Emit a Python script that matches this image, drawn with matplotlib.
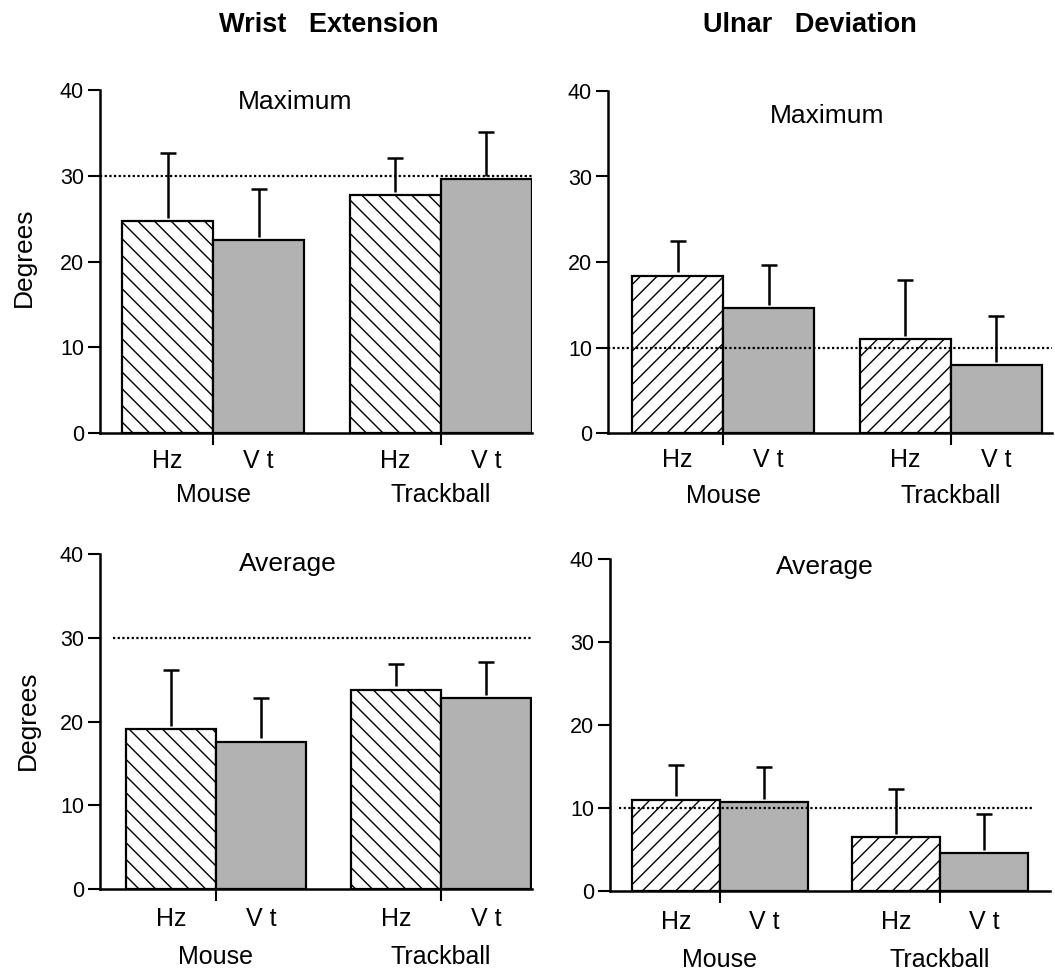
import matplotlib
matplotlib.use("Agg")
import matplotlib.pyplot as plt

plt.rcParams['font.family'] = ['Liberation Sans', 'DejaVu Sans']
plt.rcParams['hatch.linewidth'] = 1.0

W, H = 1055, 972

# ---- data ----
devices = ["Mouse", "Trackball"]
orientations = ["Hz", "V t"]

we_max_mean = [24.7, 22.5, 27.7, 29.6]
we_max_err = [32.6, 28.5, 32.1, 35.1]
ud_max_mean = [18.4, 14.6, 11.0, 7.9]
ud_max_err = [22.5, 19.6, 17.9, 13.7]
we_avg_mean = [19.1, 17.6, 23.8, 22.8]
we_avg_err = [26.1, 22.8, 26.9, 27.1]
ud_avg_mean = [11.0, 10.7, 6.5, 4.6]
ud_avg_err = [15.2, 14.9, 12.3, 9.3]

we_limit = 30
ud_limit = 10

column_titles = ["Wrist   Extension", "Ulnar   Deviation"]
row_titles = ["Maximum", "Average"]
yticks = [0, 10, 20, 30, 40]

GREY = '#b2b2b2'

fig = plt.figure(figsize=(W / 100, H / 100), dpi=100)

# pixel geometry per panel: axis_left, hz1_left, unit, axis_right, y0, y40
geom = {
    (0, 0): dict(L=100, hz=122, u=91.0, R=532, y0=433, y40=90),
    (0, 1): dict(L=608, hz=632, u=91.0, R=1052, y0=433, y40=91),
    (1, 0): dict(L=100, hz=126, u=90.0, R=532, y0=889, y40=554),
    (1, 1): dict(L=610, hz=632, u=88.0, R=1050, y0=891, y40=559),
}

panels = {
    (0, 0): (we_max_mean, we_max_err, we_limit, '\\\\'),
    (0, 1): (ud_max_mean, ud_max_err, ud_limit, '//'),
    (1, 0): (we_avg_mean, we_avg_err, we_limit, '\\\\'),
    (1, 1): (ud_avg_mean, ud_avg_err, ud_limit, '//'),
}
limit_span = {
    (0, 0): (0.0, 1.0),
    (0, 1): (0.0, 1.0),
    (1, 0): (0.03, 1.0),
    (1, 1): (0.02, 0.96),
}
title_y = {(0, 0): 102, (0, 1): 116, (1, 0): 564, (1, 1): 567}
title_x = {(0, 0): 295, (0, 1): 827, (1, 0): 288, (1, 1): 825}
lab1_off = {(0, 0): 28, (0, 1): 27, (1, 0): 30, (1, 1): 31}
lab2_off = {(0, 0): 62, (0, 1): 63, (1, 0): 68, (1, 1): 69}

for (r, c), (means, errs, lim, hatch) in panels.items():
    g = geom[(r, c)]
    left = g['L'] / W
    width = (g['R'] - g['L']) / W
    bottom = 1 - g['y0'] / H
    height = (g['y0'] - g['y40']) / H
    ax = fig.add_axes([left, bottom, width, height])
    x0 = -(g['hz'] - g['L']) / g['u']
    x1 = x0 + (g['R'] - g['L']) / g['u']
    ax.set_xlim(x0, x1)
    ax.set_ylim(0, 40)

    xs = []
    for gi in range(len(devices)):
        for oi in range(len(orientations)):
            xs.append(gi * 2.5 + oi + 0.5)
    hz_x = xs[0::2]
    vt_x = xs[1::2]
    ax.bar(hz_x, means[0::2], width=1.0, color='white', edgecolor='black',
           hatch=hatch, linewidth=1.6, zorder=2)
    ax.bar(vt_x, means[1::2], width=1.0, color=GREY, edgecolor='black',
           linewidth=1.6, zorder=2)
    # upper-only error bars with a cap at the top
    ax.vlines(xs, [m + 0.4 for m in means], errs, colors='black', linewidth=1.8, zorder=3)
    ax.plot(xs, errs, linestyle='none', marker='_', markersize=11,
            markeredgewidth=1.8, color='black', zorder=3)

    ax.axhline(lim, xmin=limit_span[(r, c)][0], xmax=limit_span[(r, c)][1],
               color='black', linestyle=(0, (1, 1.1)), linewidth=1.6, zorder=4)

    for s in ['top', 'right']:
        ax.spines[s].set_visible(False)
    for s in ['left', 'bottom']:
        ax.spines[s].set_linewidth(1.8)
    ax.set_yticks(yticks)
    ax.set_yticklabels([str(t) for t in yticks], fontsize=15.5)
    ax.tick_params(axis='y', direction='out', length=8.5, width=1.5, pad=3)
    dividers = [gi * 2.5 + 1 for gi in range(len(devices))]
    ax.set_xticks(dividers)
    ax.set_xticklabels([])
    ax.tick_params(axis='x', direction='out', length=8.5, width=1.5)

    for i, x in enumerate(xs):
        ax.annotate(orientations[i % 2], xy=(x, 0), xycoords=('data', 'axes fraction'),
                    xytext=(0, -lab1_off[(r, c)]), textcoords='offset pixels',
                    ha='center', va='center', fontsize=18)
    for gi, d in enumerate(devices):
        ax.annotate(d, xy=(gi * 2.5 + 1, 0), xycoords=('data', 'axes fraction'),
                    xytext=(0, -lab2_off[(r, c)]), textcoords='offset pixels',
                    ha='center', va='center', fontsize=18)

    fig.text(title_x[(r, c)] / W, 1 - title_y[(r, c)] / H, row_titles[r],
             ha='center', va='center', fontsize=19)

fig.text(329 / W, 1 - 25 / H, column_titles[0], ha='center', va='center',
         fontsize=19.5, fontweight='bold')
fig.text(810 / W, 1 - 25 / H, column_titles[1], ha='center', va='center',
         fontsize=19.5, fontweight='bold')
fig.text(24 / W, 1 - 257 / H, "Degrees", rotation=90, ha='center', va='center', fontsize=19)
fig.text(28 / W, 1 - 720 / H, "Degrees", rotation=90, ha='center', va='center', fontsize=19)

fig.savefig("out.png", dpi=100)
